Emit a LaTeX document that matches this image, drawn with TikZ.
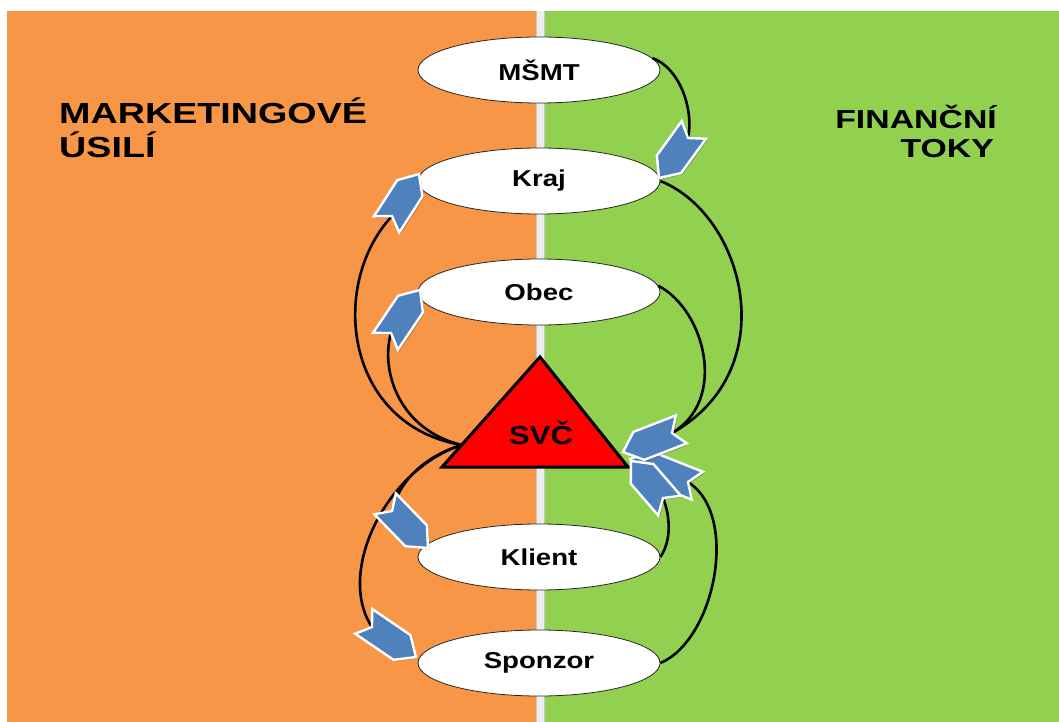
\documentclass[tikz,border=0pt]{standalone}
\usepackage{fontspec}
\setmainfont{Liberation Sans}
\newfontfamily\widesans[FakeStretch=1.2]{Liberation Sans}
\newfontfamily\headsans[FakeStretch=1.3]{Liberation Sans}
\usetikzlibrary{calc,shadows,shapes.geometric}

\definecolor{panelorange}{RGB}{247,150,70}
\definecolor{panelgreen}{RGB}{146,208,80}
\definecolor{chevblue}{RGB}{79,129,189}
\definecolor{divider}{RGB}{238,238,238}

\tikzset{
  unit/.style={ellipse, draw=black!85, line width=0.8pt, fill=white,
    minimum width=242pt, minimum height=66pt, inner sep=0pt,
    font=\widesans\bfseries\fontsize{23}{23}\selectfont},
  flow/.style={line width=2.6pt, black},
  chevbody/.style={fill=chevblue, draw=white, line width=2.4pt, line join=miter,
    drop shadow={shadow xshift=1.5pt, shadow yshift=-1.5pt, fill=black!70, opacity=0.45}},
  headleft/.style={font=\headsans\bfseries\fontsize{29}{34}\selectfont, inner sep=0pt},
  headright/.style={font=\headsans\bfseries\fontsize{26}{29}\selectfont, inner sep=0pt},
  svclabel/.style={font=\widesans\bfseries\fontsize{26}{26}\selectfont, inner sep=0pt}
}

% notched block arrow: #1 = notch point, #2 = its tip
\newcommand\chevronat[2]{%
  \coordinate (cv-sh) at ($(#2)!17pt!(#1)$);
  \coordinate (cv-tl) at ($(#1)!-10pt!(#2)$);
  \path[chevbody] (#2) -- ($(cv-sh)!15pt!90:(#2)$)
    -- ($(cv-tl)!15pt!90:(#2)$) -- (#1)
    -- ($(cv-tl)!15pt!-90:(#2)$) -- ($(cv-sh)!15pt!-90:(#2)$) -- cycle;
}

\begin{document}
\begin{tikzpicture}[x=1pt,y=-1pt]
\useasboundingbox (0,0) rectangle (1059,722);

% two panels and the divider between them
\fill[panelorange] (7,11) rectangle (536,722);
\fill[panelgreen] (544,11) rectangle (1059,722);
\fill[divider] (536,11) rectangle (544,722);
\draw[black!22, line width=0.6pt] (536,11) -- (536,722) (544,11) -- (544,722);

% panel headings
\node[headleft, anchor=base west] (mk1) at (59,124) {MARKETINGOVÉ};
\node[headleft, anchor=base west] (mk2) at (59,158) {ÚSILÍ};
\node[headright, anchor=base east] (fin1) at (997,129) {FINANČNÍ};
\node[headright, anchor=base east] (fin2) at (994,158) {TOKY};

% partners
\node[unit] (msmt) at (539,70) {MŠMT};
\node[unit] (kraj) at (539,181) {Kraj};
\node[unit] (obec) at (539,292) {Obec};
\node[unit] (klient) at (539,557) {Klient};
\node[unit] (sponzor) at (539,663) {Sponzor};

% triangle corners
\coordinate (svc-top) at (540,357);
\coordinate (svc-l) at (442,467);
\coordinate (svc-r) at (628,467);
\coordinate (svc-w) at ($(svc-l)!0.2!(svc-top)$);

% arrow notches and tips
\coordinate (nKraj) at (392,216);    \coordinate (aKraj) at (419,174);
\coordinate (nObec) at (391,333);    \coordinate (aObec) at (420,290);
\coordinate (nKlient) at (392,511);  \coordinate (aKlient) at (428,548);
\coordinate (nSponzor) at (372,627); \coordinate (aSponzor) at (416,657);
\coordinate (nMsmt) at (688,138);    \coordinate (aMsmt) at (659,178);
\coordinate (nUp) at (672,433);      \coordinate (aUp) at (623,452);
\coordinate (nSp) at (688,482);      \coordinate (aSp) at (630,459);
\coordinate (nKl) at (663,498);      \coordinate (aKl) at (631,461);

% marketing effort (left)
\draw[flow] (svc-w) .. controls (345,425) and (328,285) .. (nKraj);
\draw[flow] (svc-w) .. controls (400,430) and (380,372) .. (nObec);
\draw[flow] (svc-w) .. controls (420,458) and (398,485) .. (nKlient);
\draw[flow] (svc-w) .. controls (385,470) and (336,573) .. (nSponzor);

% financial flows (right)
\draw[flow] (msmt.6) .. controls (680,68) and (694,110) .. (nMsmt);
\draw[flow] (kraj.east) .. controls (745,215) and (785,370) .. (nUp);
\draw[flow] (obec.3) .. controls (705,310) and (728,400) .. (nUp);
\draw[flow] (klient.east) .. controls (672,540) and (670,515) .. (nKl);
\draw[flow] (sponzor.east) .. controls (715,640) and (740,515) .. (nSp);

% the centre
\draw[fill=red, line width=3pt, line join=miter] (svc-top) -- (svc-l) -- (svc-r) -- cycle;
\node[svclabel] (svc) at (541,433) {SVČ};

% arrowheads
\chevronat{nKraj}{aKraj}
\chevronat{nObec}{aObec}
\chevronat{nKlient}{aKlient}
\chevronat{nSponzor}{aSponzor}
\chevronat{nMsmt}{aMsmt}
\chevronat{nSp}{aSp}
\chevronat{nKl}{aKl}
\chevronat{nUp}{aUp}
\end{tikzpicture}
\end{document}
